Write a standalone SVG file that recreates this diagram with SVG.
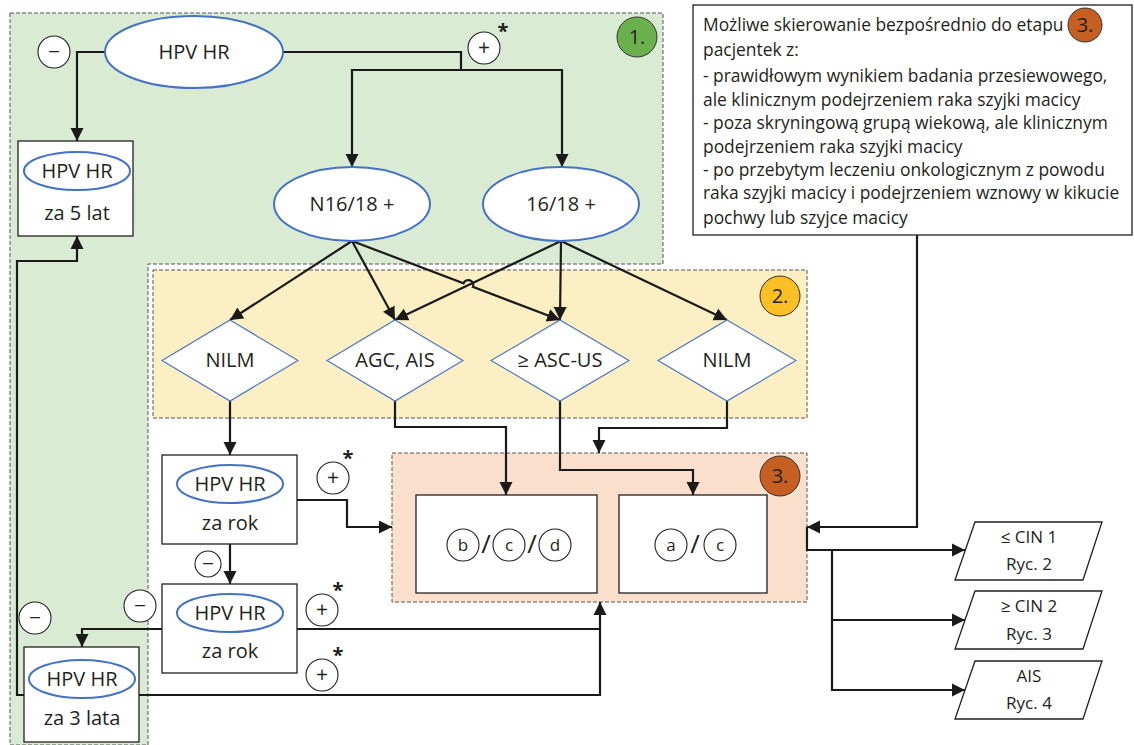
<svg xmlns="http://www.w3.org/2000/svg" width="1134" height="745" viewBox="0 0 1134 745">
<defs>
<marker id="ah" markerUnits="userSpaceOnUse" markerWidth="14" markerHeight="14" refX="13" refY="7" orient="auto">
<path d="M0,0.5 L13,7 L0,13.5 z" fill="#1a1a1a"/>
</marker>
<style>
text{font-family:"Open Sans","Liberation Sans",sans-serif;fill:#231f20;}
.t20{font-size:20px;text-anchor:middle;}
.t17{font-size:17px;text-anchor:middle;}
.sg{font-size:21px;text-anchor:middle;}
.tb{font-size:17.4px;}
.ell{fill:#fff;stroke:#4472c4;stroke-width:2;}
.box{fill:#fff;stroke:#231f20;stroke-width:1.3;}
.dia{fill:#fff;stroke:#4472c4;stroke-width:1.1;}
.sc{fill:#fff;stroke:#231f20;stroke-width:1.1;}
.con path{fill:none;stroke:#1a1a1a;stroke-width:2.2;}
.arr{marker-end:url(#ah);}
.reg{stroke:#555;stroke-width:1;stroke-dasharray:4,2;}
.num{stroke:#333;stroke-width:1;}
</style>
</defs>
<rect width="1134" height="745" fill="#fff"/>
<g id="region1">
<path class="reg" d="M10,13 H663 V264 H148 V745 H10 Z" fill="#d9ecd3"/>
<circle class="num" cx="637" cy="37" r="20" fill="#6ab04c"/>
<text class="t20" x="637" y="44">1.</text>
</g>
<g id="region2">
<rect class="reg" x="153" y="270" width="654" height="148" fill="#fdefc4"/>
<circle class="num" cx="780" cy="296" r="20" fill="#fbbf26"/>
<text class="t20" x="780" y="303">2.</text>
</g>
<g id="region3">
<rect class="reg" x="392" y="453" width="415" height="149" fill="#fbdfcd"/>
<circle class="num" cx="780" cy="476" r="20" fill="#c55f22"/>
<text class="t20" x="780" y="483">3.</text>
</g>
<g id="connectors" class="con">
<path class="arr" d="M105,52 H77 V141"/>
<path d="M283,52 H461 V70"/>
<path class="arr" d="M461,70 H352 V167"/>
<path class="arr" d="M461,70 H562 V167"/>
<path class="arr" d="M352,241 L230,320"/>
<path class="arr" d="M352,241 L395,320"/>
<path class="arr" d="M352,241 L463.5,283.3 A5,5 0 0,1 472.9,286.9 L560,320"/>
<path class="arr" d="M561,241 L395,320"/>
<path class="arr" d="M561,241 L560,320"/>
<path class="arr" d="M561,241 L727,320"/>
<path class="arr" d="M230,401 V455"/>
<path class="arr" d="M395,401 V427 H506 V495"/>
<path class="arr" d="M560,401 V470 H693 V495"/>
<path class="arr" d="M727,401 V428 H599 V453"/>
<path class="arr" d="M297,500 H347 V527 H392"/>
<path class="arr" d="M230,544 V584"/>
<path class="arr" d="M162,629 H82 V647"/>
<path class="arr" d="M297,629 H600 V602"/>
<path d="M139,695 H600 V629"/>
<path class="arr" d="M24,695 H17 V261 H77 V236"/>
<path class="arr" d="M917,235 V527 H807"/>
<path class="arr" d="M807,527 V550 H965"/>
<path class="arr" d="M832,550 V690 H965"/>
<path class="arr" d="M832,620 H965"/>
</g>
<g id="hpv-top">
<ellipse class="ell" cx="194" cy="52" rx="89" ry="36"/>
<text class="t20" x="194" y="59">HPV HR</text>
</g>
<g id="minus-top">
<circle class="sc" cx="54" cy="52" r="16"/>
<text class="sg" x="54" y="59">−</text>
</g>
<g id="plus-top">
<circle class="sc" cx="484" cy="48" r="16"/>
<text class="sg" x="484" y="55">+</text>
<text class="t20" x="503" y="38" style="font-weight:bold">*</text>
</g>
<g id="hpv-5lat">
<rect class="box" x="18" y="141" width="115" height="95"/>
<ellipse class="ell" cx="77" cy="171" rx="53" ry="19"/>
<text class="t20" x="77" y="178">HPV HR</text>
<text class="t20" x="77" y="220">za 5 lat</text>
</g>
<g id="n1618">
<ellipse class="ell" cx="352" cy="204" rx="78" ry="37"/>
<text class="t20" x="352" y="211">N16/18 +</text>
</g>
<g id="p1618">
<ellipse class="ell" cx="561" cy="204" rx="78" ry="37"/>
<text class="t20" x="561" y="211">16/18 +</text>
</g>
<g id="nilm1">
<polygon class="dia" points="230,320 298,360.5 230,401 162,360.5"/>
<text class="t20" x="230" y="367">NILM</text>
</g>
<g id="agc">
<polygon class="dia" points="395,320 463,360.5 395,401 327,360.5"/>
<text class="t20" x="395" y="367">AGC, AIS</text>
</g>
<g id="ascus">
<polygon class="dia" points="560,320 629,360.5 560,401 491,360.5"/>
<text class="t20" x="560" y="367">≥ ASC-US</text>
</g>
<g id="nilm2">
<polygon class="dia" points="727,320 796,360.5 727,401 658,360.5"/>
<text class="t20" x="727" y="367">NILM</text>
</g>
<g id="hpv-rok1">
<rect class="box" x="162" y="455" width="135" height="89"/>
<ellipse class="ell" cx="230" cy="484" rx="53" ry="19"/>
<text class="t20" x="230" y="491">HPV HR</text>
<text class="t20" x="230" y="530">za rok</text>
</g>
<g id="plus-rok1">
<circle class="sc" cx="333" cy="478" r="16"/>
<text class="sg" x="333" y="485">+</text>
<text class="t20" x="348" y="465" style="font-weight:bold">*</text>
</g>
<g id="minus-rok1">
<circle class="sc" cx="208" cy="564" r="13"/>
<text class="sg" x="208" y="571">−</text>
</g>
<g id="hpv-rok2">
<rect class="box" x="162" y="584" width="135" height="89"/>
<ellipse class="ell" cx="230" cy="613" rx="53" ry="19"/>
<text class="t20" x="230" y="620">HPV HR</text>
<text class="t20" x="230" y="658">za rok</text>
</g>
<g id="minus-rok2">
<circle class="sc" cx="140" cy="606" r="16"/>
<text class="sg" x="140" y="613">−</text>
</g>
<g id="plus-rok2">
<circle class="sc" cx="322" cy="610" r="16"/>
<text class="sg" x="322" y="617">+</text>
<text class="t20" x="338" y="597" style="font-weight:bold">*</text>
</g>
<g id="plus-3lata">
<circle class="sc" cx="322" cy="675" r="16"/>
<text class="sg" x="322" y="682">+</text>
<text class="t20" x="338" y="662" style="font-weight:bold">*</text>
</g>
<g id="minus-3lata">
<circle class="sc" cx="35" cy="618" r="16"/>
<text class="sg" x="35" y="625">−</text>
</g>
<g id="hpv-3lata">
<rect class="box" x="24" y="647" width="115" height="95"/>
<ellipse class="ell" cx="82" cy="679" rx="53" ry="19"/>
<text class="t20" x="82" y="686">HPV HR</text>
<text class="t20" x="82" y="725">za 3 lata</text>
</g>
<g id="box-bcd">
<rect class="box" x="416" y="495" width="181" height="98"/>
<circle class="sc" cx="463" cy="545" r="16"/>
<text class="t17" x="463" y="551">b</text>
<text class="t20" x="486" y="553" style="font-size:26px">/</text>
<circle class="sc" cx="509" cy="545" r="16"/>
<text class="t17" x="509" y="551">c</text>
<text class="t20" x="532" y="553" style="font-size:26px">/</text>
<circle class="sc" cx="555" cy="545" r="16"/>
<text class="t17" x="555" y="551">d</text>
</g>
<g id="box-ac">
<rect class="box" x="619" y="495" width="148" height="98"/>
<circle class="sc" cx="671" cy="545" r="16"/>
<text class="t17" x="671" y="551">a</text>
<text class="t20" x="695" y="553" style="font-size:26px">/</text>
<circle class="sc" cx="720" cy="545" r="16"/>
<text class="t17" x="720" y="551">c</text>
</g>
<g id="cin1">
<polygon class="box" points="975,522 1102,522 1083,580 955,580"/>
<text class="t17" x="1029" y="543">≤ CIN 1</text>
<text class="t17" x="1029" y="570">Ryc. 2</text>
</g>
<g id="cin2">
<polygon class="box" points="975,591 1102,591 1083,649 955,649"/>
<text class="t17" x="1029" y="612">≥ CIN 2</text>
<text class="t17" x="1029" y="640">Ryc. 3</text>
</g>
<g id="ais">
<polygon class="box" points="975,661 1102,661 1083,719 955,719"/>
<text class="t17" x="1029" y="682">AIS</text>
<text class="t17" x="1029" y="709">Ryc. 4</text>
</g>
<g id="note">
<rect class="box" x="693" y="5" width="439" height="230"/>
<circle class="num" cx="1085" cy="25" r="17" fill="#c55f22"/>
<text class="t20" x="1085" y="32">3.</text>
<text class="tb" x="703" y="31">Możliwe skierowanie bezpośrednio do etapu</text>
<text class="tb" x="703" y="56">pacjentek z:</text>
<text class="tb" x="703" y="82">- prawidłowym wynikiem badania przesiewowego,</text>
<text class="tb" x="703" y="106">ale klinicznym podejrzeniem raka szyjki macicy</text>
<text class="tb" x="703" y="129">- poza skryningową grupą wiekową, ale klinicznym</text>
<text class="tb" x="703" y="153">podejrzeniem raka szyjki macicy</text>
<text class="tb" x="703" y="176">- po przebytym leczeniu onkologicznym z powodu</text>
<text class="tb" x="703" y="199">raka szyjki macicy i podejrzeniem wznowy w kikucie</text>
<text class="tb" x="703" y="224">pochwy lub szyjce macicy</text>
</g>
</svg>
